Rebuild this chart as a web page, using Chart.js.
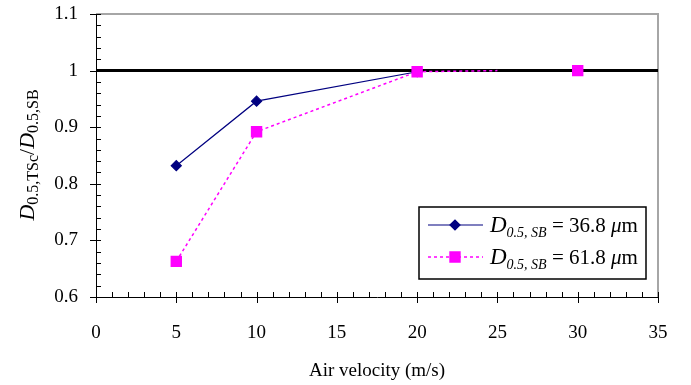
<!DOCTYPE html>
<html><head><meta charset="utf-8">
<script src="https://cdn.jsdelivr.net/npm/chart.js@4/dist/chart.umd.min.js"></script>
<style>html,body{margin:0;padding:0;background:#fff}#wrap{width:691px;height:385px}</style>
</head><body><div id="wrap"><canvas id="c" width="691" height="385"></canvas></div>
<script>
// Data
const blueX = [5, 10, 20];
const blueY = [0.832, 0.946, 0.998];
const pinkX = [5, 10, 20, 25, 30];
const pinkY = [0.663, 0.892, 0.998, 1.0, 1.0];
const pinkMarker = [true, true, true, false, true];
const pinkGapAfter = 3;
const refX = [0, 35];
const refY = [1, 1];
const xTicks = [0, 5, 10, 15, 20, 25, 30, 35];
const yTicks = [0.6, 0.7, 0.8, 0.9, 1.0, 1.1];
const blueLabel = ['36.8'];
const pinkLabel = ['61.8'];
const xTitle = 'Air velocity (m/s)';

const SERIF = '"Liberation Serif", "DejaVu Serif", serif';
const toPts = (xs, ys) => xs.map((x, i) => ({x: x, y: ys[i]}));

const frame = {
  id: 'frame',
  beforeDatasetsDraw(chart) {
    const {ctx, chartArea: a, scales: {x, y}} = chart;
    ctx.save();
    ctx.strokeStyle = '#a6a6a6'; ctx.lineWidth = 2;
    ctx.beginPath();
    ctx.moveTo(a.left, a.top); ctx.lineTo(a.right, a.top); ctx.lineTo(a.right, a.bottom);
    ctx.stroke();
    ctx.strokeStyle = '#000'; ctx.lineWidth = 1;
    ctx.beginPath();
    for (let v = 60; v <= 110; v += 2) {
      const py = Math.round(y.getPixelForValue(v / 100)) + 0.5;
      const major = v % 10 === 0;
      ctx.moveTo(a.left - (major ? 6 : 0), py); ctx.lineTo(a.left + 5, py);
    }
    for (let v = 0; v <= 35; v += 1) {
      const px = Math.round(x.getPixelForValue(v)) + 0.5;
      const major = v % 5 === 0;
      ctx.moveTo(px, a.bottom + (major ? 6 : 0)); ctx.lineTo(px, a.bottom - 5);
    }
    ctx.stroke();
    ctx.restore();
  },
  afterDraw(chart) {
    const {ctx} = chart;
    ctx.save();
    ctx.translate(28, 155);
    ctx.rotate(-Math.PI / 2);
    ctx.fillStyle = '#000';
    ctx.textBaseline = 'alphabetic';
    const parts = [
      ['italic 22px ' + SERIF, 'D', 0],
      ['16px ' + SERIF, '0.5,TSc', 4],
      ['22px ' + SERIF, '/', 0],
      ['italic 22px ' + SERIF, 'D', 0],
      ['16px ' + SERIF, '0.5,SB', 4]
    ];
    let w = 0;
    parts.forEach(p => { ctx.font = p[0]; w += ctx.measureText(p[1]).width; });
    let cx = -w / 2;
    parts.forEach(p => { ctx.font = p[0]; ctx.fillText(p[1], cx, 6 + p[2]); cx += ctx.measureText(p[1]).width; });
    ctx.restore();

    ctx.save();
    const bx = 419, by = 207, bw = 227, bh = 72;
    ctx.fillStyle = '#fff'; ctx.fillRect(bx, by, bw, bh);
    ctx.strokeStyle = '#000'; ctx.lineWidth = 1.5;
    ctx.strokeRect(bx, by, bw, bh);
    const rows = [
      {ds: chart.data.datasets[1], y: 225, label: blueLabel[0]},
      {ds: chart.data.datasets[2], y: 257, label: pinkLabel[0]}
    ];
    rows.forEach(r => {
      ctx.strokeStyle = r.ds.borderColor; ctx.lineWidth = r.ds.borderWidth;
      ctx.setLineDash(r.ds.borderDash || []);
      ctx.beginPath(); ctx.moveTo(428, r.y); ctx.lineTo(483, r.y); ctx.stroke();
      ctx.setLineDash([]);
      Chart.helpers.drawPoint(ctx, {pointStyle: r.ds.pointStyle, radius: r.ds.legendRadius, rotation: 0, borderWidth: 1}, 455, r.y);
      ctx.fillStyle = r.ds.pointBackgroundColor; ctx.fill();
      ctx.fillStyle = '#000';
      let tx = 490;
      const seg = [
        ['italic 23px ' + SERIF, 'D', 0],
        ['italic 14px ' + SERIF, '0.5, SB', 5],
        ['21px ' + SERIF, ' = ' + r.label + ' ', 0],
        ['italic 21px ' + SERIF, 'μ', 0],
        ['21px ' + SERIF, 'm', 0]
      ];
      seg.forEach(s => { ctx.font = s[0]; ctx.fillText(s[1], tx, r.y + 7 + s[2]); tx += ctx.measureText(s[1]).width; });
    });
    ctx.restore();
  }
};

new Chart(document.getElementById('c'), {
  type: 'line',
  data: {
    datasets: [
      {
        label: 'ref', data: toPts(refX, refY), borderColor: '#000', borderWidth: 3,
        pointRadius: 0, order: 3
      },
      {
        label: 'D0.5,SB = 36.8 μm', data: toPts(blueX, blueY), borderColor: '#000080',
        backgroundColor: '#000080', pointBackgroundColor: '#000080', pointBorderColor: '#000080',
        borderWidth: 1.2, pointStyle: 'rectRot', pointRadius: 5, legendRadius: 5, order: 2
      },
      {
        label: 'D0.5,SB = 61.8 μm', data: toPts(pinkX, pinkY), borderColor: '#ff00ff',
        backgroundColor: '#ff00ff', pointBackgroundColor: '#ff00ff', pointBorderColor: '#ff00ff',
        borderWidth: 1.5, borderDash: [3, 3], pointStyle: 'rect',
        pointRadius: pinkMarker.map(m => m ? 7 : 0), legendRadius: 7, order: 1,
        segment: { borderColor: c => c.p0DataIndex === pinkGapAfter ? 'rgba(0,0,0,0)' : undefined }
      }
    ]
  },
  options: {
    responsive: false, animation: false,
    layout: {padding: {top: 14, right: 33, left: 0, bottom: 0}},
    plugins: {legend: {display: false}, tooltip: {enabled: false}},
    scales: {
      x: {
        type: 'linear', min: 0, max: 35,
        afterBuildTicks: s => { s.ticks = xTicks.map(v => ({value: v})); },
        afterFit: s => { s.height = 88; s.paddingLeft = 0; s.paddingRight = 0; },
        grid: {display: false},
        border: {display: true, color: '#000', width: 1},
        ticks: {font: {family: SERIF, size: 19}, color: '#000', padding: 17},
        title: {display: true, text: xTitle, font: {family: SERIF, size: 19}, color: '#000', padding: {top: 0, bottom: 3}}
      },
      y: {
        type: 'linear', min: 0.6, max: 1.1,
        afterBuildTicks: s => { s.ticks = yTicks.map(v => ({value: v})); },
        afterFit: s => { s.width = 96; s.paddingTop = 0; s.paddingBottom = 0; },
        grid: {display: false},
        border: {display: true, color: '#000', width: 1},
        ticks: {font: {family: SERIF, size: 19}, color: '#000', padding: 10,
          callback: v => String(Math.round(v * 10) / 10)}
      }
    }
  },
  plugins: [frame]
});
</script>
</body></html>
